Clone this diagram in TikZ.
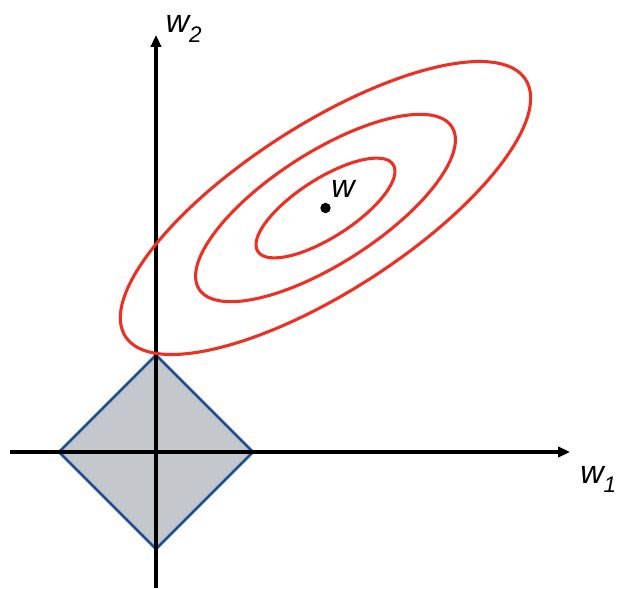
\documentclass[tikz,border=0pt]{standalone}
\usepackage{fontspec}
\setmainfont{Liberation Sans}
\usepackage{tikz}
\usetikzlibrary{arrows.meta}

\definecolor{contourred}{RGB}{236,48,36}
\definecolor{ballblue}{RGB}{31,78,145}
\definecolor{ballgray}{RGB}{196,200,204}

\begin{document}
\begin{tikzpicture}[
  axis/.style={-{Triangle[length=0.3cm, width=0.26cm]}, line width=2.2pt},
  contour/.style={draw=contourred, line width=2.2pt, rotate=32.7},
  ball/.style={draw=ballblue, fill=ballgray, line width=1.9pt, line join=miter},
  lbl/.style={font=\fontsize{23}{25}\selectfont\itshape, inner sep=0pt, anchor=base west}
]
\useasboundingbox (-3.9,-3.4) rectangle (11.525,11.3);
% L1 ball
\coordinate (top) at (0,2.425);
\coordinate (right) at (2.425,0);
\coordinate (bottom) at (0,-2.425);
\coordinate (left) at (-2.425,0);
\draw[ball] (top) -- (right) -- (bottom) -- (left) -- cycle;
% axes
\coordinate (xstart) at (-3.65,0);
\coordinate (xend) at (10.35,0);
\coordinate (ystart) at (0,-3.4);
\coordinate (yend) at (0,10.425);
\draw[axis] (xstart) -- (xend);
\draw[axis] (ystart) -- (yend);
% loss contours
\coordinate (wopt) at (4.2375,6.1);
\draw[contour] (wopt) ellipse [x radius=5.945cm, y radius=2.09cm];
\draw[contour] (wopt) ellipse [x radius=3.755cm, y radius=1.39cm];
\draw[contour] (wopt) ellipse [x radius=2.01cm, y radius=0.73cm];
\fill (wopt) circle (0.13);
% labels
\node[lbl] (wlabel) at (4.38,6.35) {w};
\node[lbl] (w1label) at (10.6,-0.775) {w\raisebox{-0.28em}{\fontsize{16}{16}\selectfont 1}};
\node[lbl] (w2label) at (0.24,10.475) {w\raisebox{-0.28em}{\fontsize{16}{16}\selectfont 2}};
\end{tikzpicture}
\end{document}
